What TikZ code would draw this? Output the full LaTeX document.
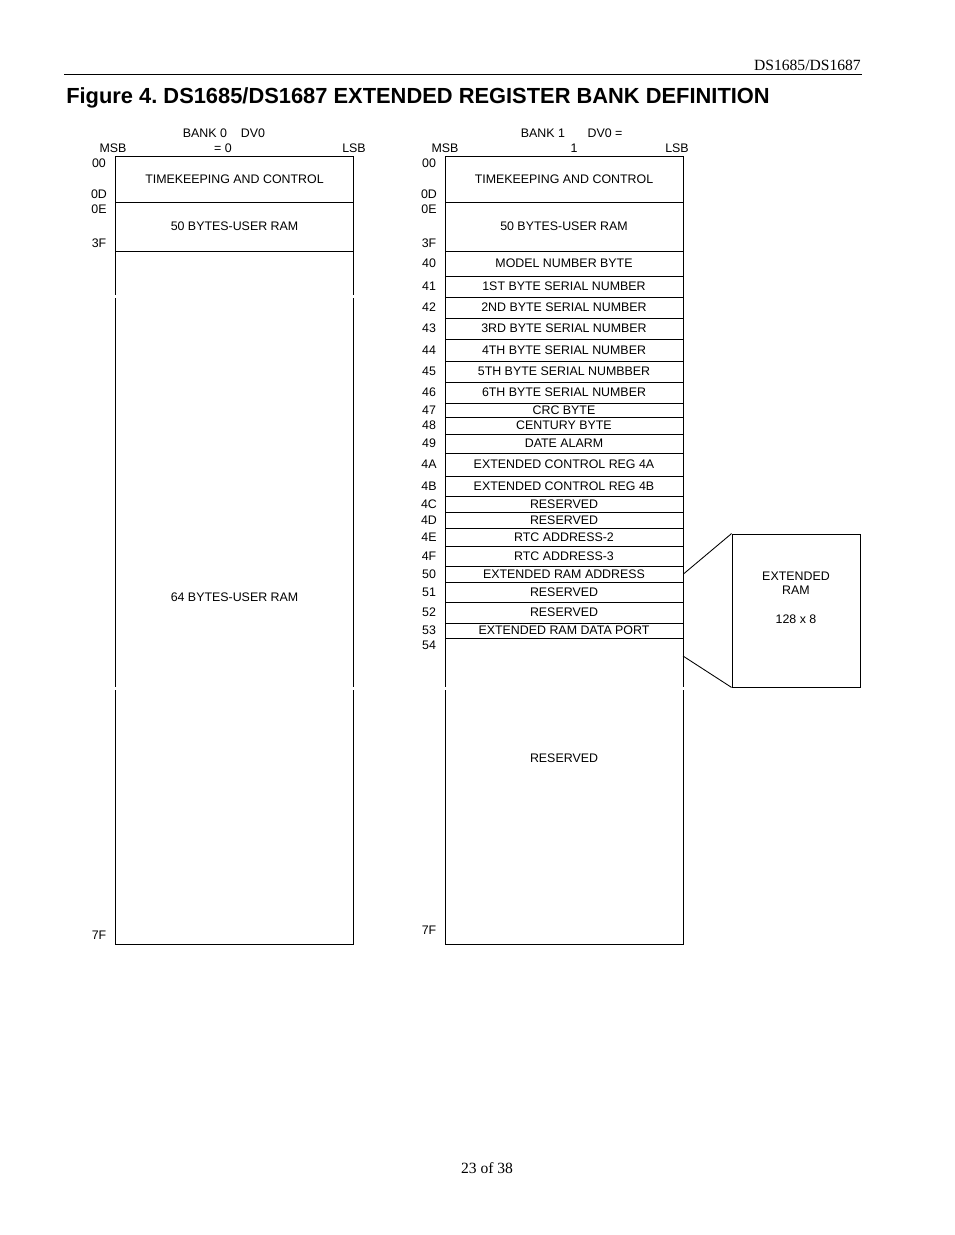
\documentclass[tikz,border=0pt]{standalone}
\usepackage{fontspec}
\setmainfont{Liberation Serif}
\newfontfamily\arialfont{Liberation Sans}
\usetikzlibrary{positioning}
\frenchspacing

\tikzset{
  lbl/.style={font=\arialfont\fontsize{9.3}{10.5}\selectfont, inner sep=0pt},
  regbox/.style={draw, line width=0.65pt, inner sep=0pt, minimum width=178.5pt,
    font=\arialfont\fontsize{9.3}{10.5}\selectfont},
}

\begin{document}
\begin{tikzpicture}[x=0.75pt, y=-0.75pt]
        \useasboundingbox (0,0) rectangle (954,1235);

        % page header and title
        \node[anchor=east, inner sep=0pt, font=\fontsize{11.7}{13}\selectfont] (hdr) at (861,65) {DS1685/DS1687};
        \draw[line width=0.65pt] (64,74) -- (862,74);
        \node[anchor=west, inner sep=0pt, font=\arialfont\bfseries\fontsize{16.4}{18}\selectfont] (title) at (66,97.5) {Figure 4. DS1685/DS1687 EXTENDED REGISTER BANK DEFINITION};

        % bank 0
        \node[lbl] (bk0) at (205,133) {BANK 0};
        \node[lbl] (dv0) at (253,133) {DV0};
        \node[lbl] (msb0) at (113,148) {MSB};
        \node[lbl] (eq0) at (223,148) {= 0};
        \node[lbl] (lsb0) at (354,148) {LSB};
        \node[regbox, minimum height=34.5pt] (tk0) at (234.5,179) {TIMEKEEPING AND CONTROL};
        \node[regbox, minimum height=36.75pt] (ur0) at (234.5,226.5) {50 BYTES-USER RAM};
        \node[regbox, minimum height=519.75pt] (hi0) at (234.5,597.5) {64 BYTES-USER RAM};
        \foreach \y/\a in {163/00, 194/0D, 209/0E, 243/3F, 935/7F}
            \node[lbl] (a0\a) at (99,\y) {\a};

        % bank 1
        \node[lbl] (bk1) at (543,133) {BANK 1};
        \node[lbl] (dv1) at (605,133) {DV0 =};
        \node[lbl] (msb1) at (445,148) {MSB};
        \node[lbl] (eq1) at (574,148) {1};
        \node[lbl] (lsb1) at (677,148) {LSB};
        \node[regbox, minimum height=34.5pt] (tk1) at (564,179) {TIMEKEEPING AND CONTROL};
        \node[regbox, minimum height=36.75pt] (ur1) at (564,226.5) {50 BYTES-USER RAM};
        \foreach \y/\a in {163/00, 194/0D, 209/0E, 243/3F, 645/54, 930/7F}
            \node[lbl] (a1\a) at (429,\y) {\a};
        \foreach \yt/\yb/\a/\txt in {251/276/40/MODEL NUMBER BYTE, 276/297/41/1ST BYTE SERIAL NUMBER,
            297/318/42/2ND BYTE SERIAL NUMBER, 318/339/43/3RD BYTE SERIAL NUMBER,
            339/361/44/4TH BYTE SERIAL NUMBER, 361/382/45/5TH BYTE SERIAL NUMBBER,
            382/403/46/6TH BYTE SERIAL NUMBER, 403/417/47/CRC BYTE, 417/434/48/CENTURY BYTE,
            434/453/49/DATE ALARM, 453/476/4A/EXTENDED CONTROL REG 4A,
            476/496/4B/EXTENDED CONTROL REG 4B, 496/512/4C/RESERVED, 512/528/4D/RESERVED,
            528/546/4E/RTC ADDRESS-2, 546/566/4F/RTC ADDRESS-3, 566/582/50/EXTENDED RAM ADDRESS,
            582/602/51/RESERVED, 602/623/52/RESERVED, 623/638/53/EXTENDED RAM DATA PORT}
        {
            \node[regbox, minimum height={(\yb-\yt)*0.75pt}] (r\a) at (564,{(\yt+\yb)/2}) {\txt};
            \node[lbl] (a1\a) at (429,{(\yt+\yb)/2}) {\a};
        }
        \node[regbox, minimum height=229.5pt] (rs1) at (564,791) {};
        \node[lbl] (rs1txt) at (564,758) {RESERVED};

        % small breaks in the long edges
        \foreach \gx in {115,354} \fill[white] (\gx-2,295) rectangle (\gx+2,297.5);
        \foreach \gx in {115,354,445,683} \fill[white] (\gx-2,687) rectangle (\gx+2,689.5);

        % extended ram
        \node[draw, line width=0.65pt, minimum width=96pt, minimum height=114.75pt] (xram) at (796,610.5) {};
        \node[lbl, align=center] (xramtxt) at (796,597.5) {EXTENDED\\RAM\\[11pt]128 x 8};
        \coordinate (xlo) at (683,656);
        \draw[line width=0.65pt] (r50.east) -- (xram.north west);
        \draw[line width=0.65pt] (xlo) -- (xram.south west);

        % page number
        \node[inner sep=0pt, font=\fontsize{11.7}{13}\selectfont] (pg) at (487,1168) {23 of 38};
\end{tikzpicture}
\end{document}
